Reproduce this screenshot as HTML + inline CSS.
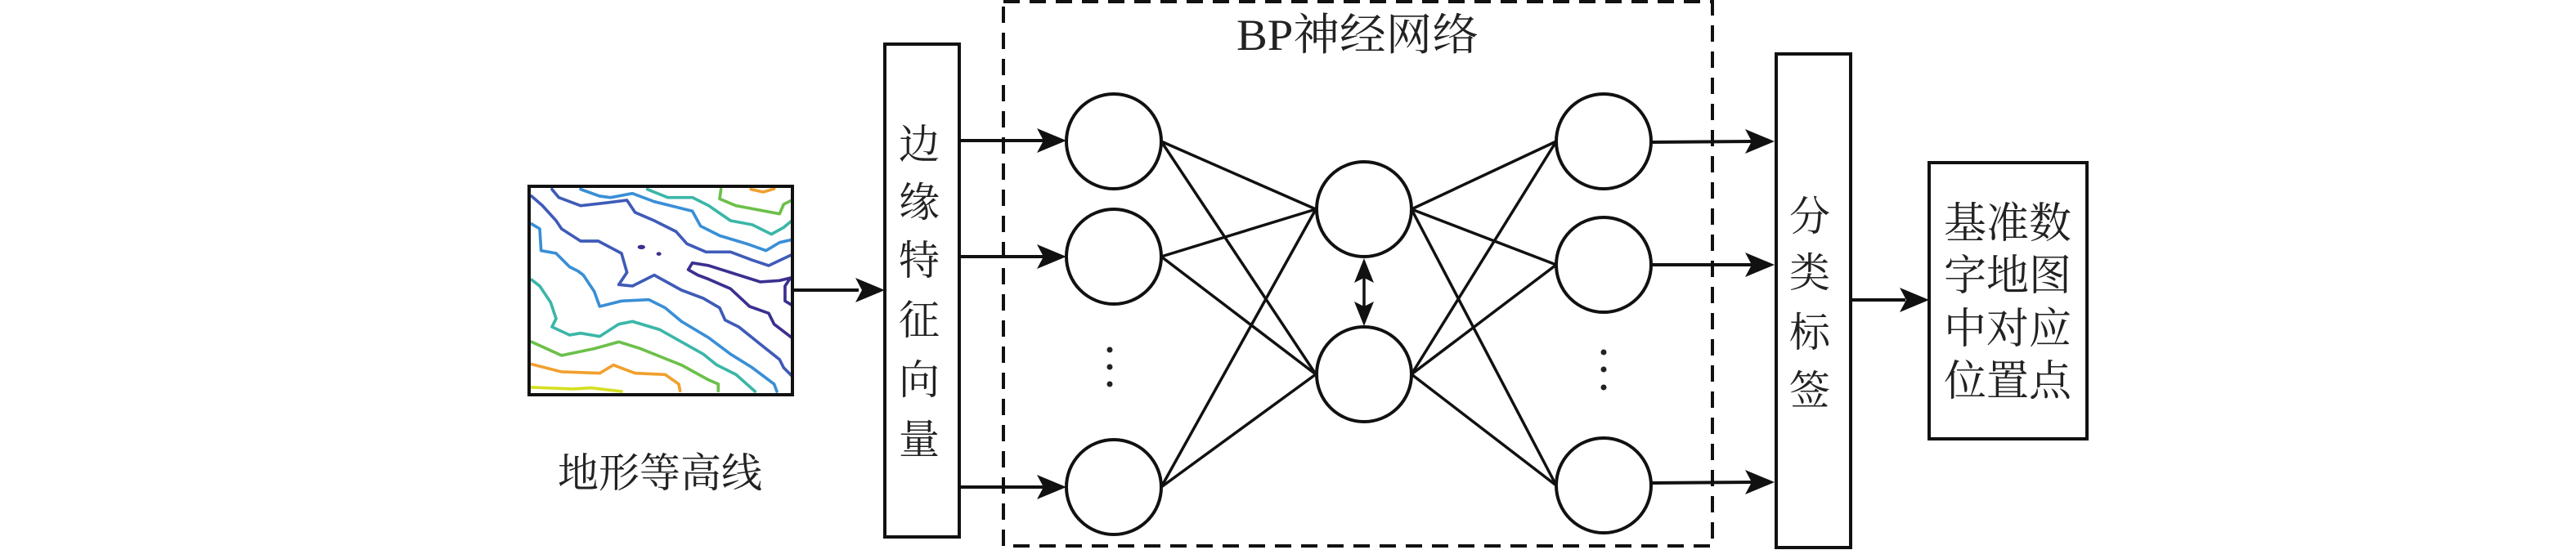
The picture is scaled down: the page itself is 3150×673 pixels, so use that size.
<!DOCTYPE html>
<html><head><meta charset="utf-8"><style>
html,body{margin:0;padding:0;background:#fff;}
svg{display:block;}
text{font-family:"Liberation Serif","Noto Serif CJK SC","Noto Sans CJK SC",serif;fill:#222;}
</style></head><body>
<svg width="3150" height="673" viewBox="0 0 3150 673" xmlns="http://www.w3.org/2000/svg">
<!-- contour map -->
<g transform="translate(600,180) scale(0.3333)" fill="none" stroke-width="11" stroke-linejoin="round" stroke-linecap="round">
<polyline stroke="#d4e021" points="150,882 300,888 370,884 480,897"/>
<polyline stroke="#f0a030" points="150,797 260,825 400,830 450,800 530,830 640,835 690,870 695,895"/>
<polyline stroke="#f0a030" points="955,155 1000,165 1040,153"/>
<polyline stroke="#6cc04a" points="150,715 260,765 380,740 470,715 550,740 700,800 800,855 835,870 835,895"/>
<polyline stroke="#6cc04a" points="845,155 840,190 900,215 1060,245 1075,210 1105,195"/>
<polyline stroke="#3bb6a8" points="150,487 180,510 220,570 240,630 225,660 290,690 330,683 400,695 470,650 520,640 620,670 700,715 780,760 830,800 900,835 970,897"/>
<polyline stroke="#3bb6a8" points="575,155 650,185 740,185 800,215 880,270 960,285 1030,320 1075,295 1105,270"/>
<polyline stroke="#3a8fd6" points="150,282 180,300 185,380 240,390 290,440 320,455 340,470 380,530 400,585 480,565 580,560 640,590 700,640 800,700 880,760 960,810 1040,870 1050,897"/>
<polyline stroke="#3a8fd6" points="330,155 400,180 440,185 520,170 600,200 740,235 770,290 840,325 940,355 1010,380 1060,350 1105,340"/>
<polyline stroke="#3f5bb8" points="150,180 190,215 240,270 260,300 330,345 395,345 480,390 500,460 470,505 520,510 600,470 700,525 780,555 840,590 860,635 910,660 960,700 1010,740 1060,780 1075,810 1105,840"/>
<polyline stroke="#3f5bb8" points="225,155 250,185 330,215 420,205 500,195 530,240 600,270 680,310 720,355 790,385 880,385 960,415 1020,435 1105,395"/>
<polyline stroke="#3a3090" points="1105,580 1080,565 1080,510 1100,480 1060,490 990,495 800,435 740,425 725,450 760,470 800,485 880,520 950,585 1020,610 1040,650 1105,700"/>
<ellipse cx="553" cy="367" rx="14" ry="8" fill="#3a3090" stroke="none"/>
<ellipse cx="617" cy="392" rx="9" ry="7" fill="#3a3090" stroke="none"/>
</g>
<rect x="647" y="228" width="322" height="255" fill="none" stroke="#111" stroke-width="4"/>
<text x="682" y="596" font-size="50">地形等高线</text>
<line x1="969" y1="355" x2="1050" y2="355" stroke="#111" stroke-width="4"/>
<polygon points="1082,355 1046,340 1054,355 1046,370" fill="#111"/>
<rect x="1082" y="54" width="91" height="603" fill="none" stroke="#111" stroke-width="4"/>
<g font-size="50" text-anchor="middle">
<text x="1124" y="194">边</text><text x="1124" y="265">缘</text><text x="1124" y="336">特</text>
<text x="1124" y="409">征</text><text x="1124" y="482">向</text><text x="1124" y="555">量</text>
</g>
<rect x="1227" y="2" width="867" height="666" fill="none" stroke="#111" stroke-width="4" stroke-dasharray="20,12"/>
<text x="1512" y="61" font-size="54" textLength="296" lengthAdjust="spacingAndGlyphs">BP神经网络</text>
<g stroke="#111" stroke-width="4">
<line x1="1173" y1="172" x2="1280" y2="172"/>
<line x1="1173" y1="314" x2="1280" y2="314"/>
<line x1="1173" y1="596" x2="1280" y2="596"/>
</g>
<g fill="#111">
<polygon points="1304,172 1268,157 1276,172 1268,187"/>
<polygon points="1304,314 1268,299 1276,314 1268,329"/>
<polygon points="1304,596 1268,581 1276,596 1268,611"/>
</g>
<g stroke="#111" stroke-width="3.5">
<line x1="1420" y1="173" x2="1609" y2="256"/>
<line x1="1420" y1="173" x2="1609" y2="458"/>
<line x1="1420" y1="314" x2="1609" y2="256"/>
<line x1="1420" y1="314" x2="1609" y2="458"/>
<line x1="1420" y1="596" x2="1609" y2="256"/>
<line x1="1420" y1="596" x2="1609" y2="458"/>
<line x1="1726" y1="256" x2="1903" y2="173"/>
<line x1="1726" y1="256" x2="1903" y2="324"/>
<line x1="1726" y1="256" x2="1903" y2="594"/>
<line x1="1726" y1="458" x2="1903" y2="173"/>
<line x1="1726" y1="458" x2="1903" y2="324"/>
<line x1="1726" y1="458" x2="1903" y2="594"/>
<line x1="1668" y1="335" x2="1668" y2="380"/>
</g>
<g fill="#111">
<polygon points="1668,316 1656,346 1668,340 1680,346"/>
<polygon points="1668,399 1656,369 1668,375 1680,369"/>
</g>
<g fill="#fff" stroke="#111" stroke-width="4">
<ellipse cx="1362" cy="173" rx="58" ry="58"/>
<ellipse cx="1362" cy="314" rx="58" ry="58"/>
<ellipse cx="1362" cy="596" rx="58" ry="58"/>
<ellipse cx="1668" cy="256" rx="58" ry="58"/>
<ellipse cx="1668" cy="458" rx="58" ry="58"/>
<ellipse cx="1961" cy="173" rx="58" ry="58"/>
<ellipse cx="1961" cy="324" rx="58" ry="58"/>
<ellipse cx="1961" cy="594" rx="58" ry="58"/>
</g>
<g fill="#222">
<circle cx="1357" cy="428" r="3.5"/><circle cx="1357" cy="449" r="3.5"/><circle cx="1357" cy="470" r="3.5"/>
<circle cx="1961" cy="431" r="3.5"/><circle cx="1961" cy="452" r="3.5"/><circle cx="1961" cy="474" r="3.5"/>
</g>
<g stroke="#111" stroke-width="4">
<line x1="2019" y1="174" x2="2145" y2="173"/>
<line x1="2019" y1="324" x2="2145" y2="324"/>
<line x1="2019" y1="591" x2="2145" y2="590"/>
</g>
<g fill="#111">
<polygon points="2170,173 2134,158 2142,173 2134,188"/>
<polygon points="2170,324 2134,309 2142,324 2134,339"/>
<polygon points="2170,590 2134,575 2142,590 2134,605"/>
</g>
<rect x="2172" y="66" width="91" height="604" fill="none" stroke="#111" stroke-width="4"/>
<g font-size="50" text-anchor="middle">
<text x="2213" y="282">分</text><text x="2213" y="351">类</text><text x="2213" y="424">标</text><text x="2213" y="495">签</text>
</g>
<line x1="2263" y1="367" x2="2330" y2="367" stroke="#111" stroke-width="4"/>
<polygon points="2359,367 2323,352 2331,367 2323,382" fill="#111"/>
<rect x="2359" y="199" width="193" height="338" fill="none" stroke="#111" stroke-width="4"/>
<g font-size="52" text-anchor="middle">
<text x="2455" y="291">基准数</text><text x="2455" y="355">字地图</text>
<text x="2455" y="420">中对应</text><text x="2455" y="484">位置点</text>
</g>
</svg>
</body></html>
